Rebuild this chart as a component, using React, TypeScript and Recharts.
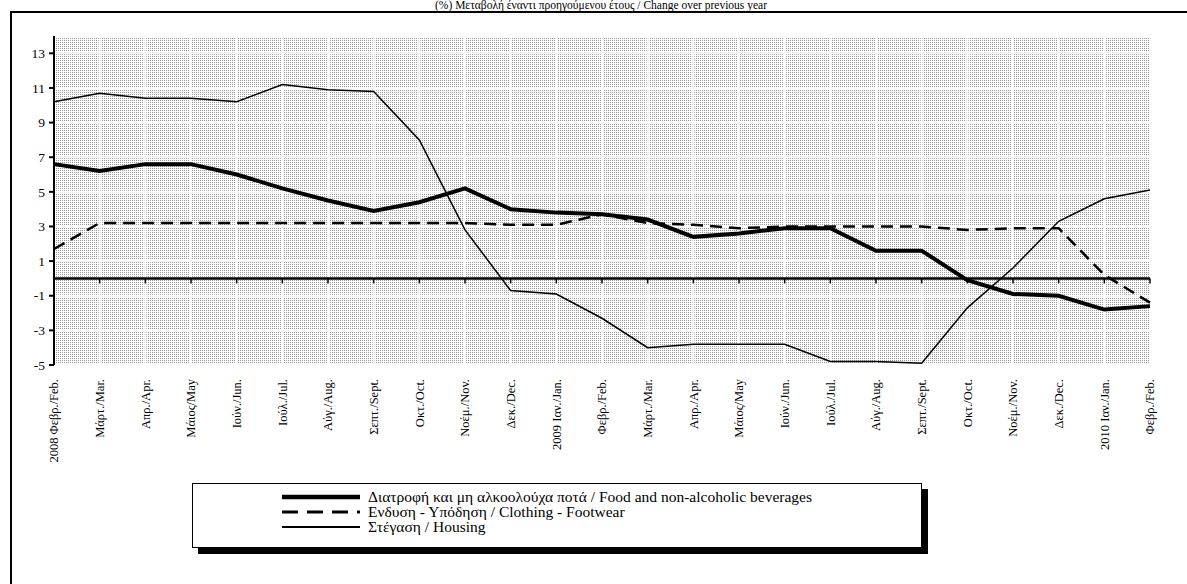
import React from 'react'
import { LineChart, Line, XAxis, YAxis, CartesianGrid, ReferenceLine } from 'recharts'

const months = [
  '2008 Φεβρ./Feb.', 'Μάρτ./Mar.', 'Απρ./Apr.', 'Μάιος/May', 'Ιούν./Jun.', 'Ιούλ./Jul.',
  'Αύγ./Aug.', 'Σεπτ./Sept.', 'Οκτ./Oct.', 'Νοέμ./Nov.', 'Δεκ./Dec.', '2009 Ιαν./Jan.',
  'Φεβρ./Feb.', 'Μάρτ./Mar.', 'Απρ./Apr.', 'Μάιος/May', 'Ιούν./Jun.', 'Ιούλ./Jul.',
  'Αύγ./Aug.', 'Σεπτ./Sept.', 'Οκτ./Oct.', 'Νοέμ./Nov.', 'Δεκ./Dec.', '2010 Ιαν./Jan.',
  'Φεβρ./Feb.',
]

const food = [
  6.6, 6.2, 6.6, 6.6, 6.0, 5.2, 4.5, 3.9, 4.4, 5.2, 4.0, 3.8,
  3.7, 3.4, 2.4, 2.6, 2.9, 2.9, 1.6, 1.6, -0.1, -0.9, -1.0, -1.8, -1.6,
]

const clothing = [
  1.7, 3.2, 3.2, 3.2, 3.2, 3.2, 3.2, 3.2, 3.2, 3.2, 3.1, 3.1,
  3.7, 3.2, 3.1, 2.9, 3.0, 3.0, 3.0, 3.0, 2.8, 2.9, 2.9, 0.2, -1.4,
]

const housing = [
  10.2, 10.7, 10.4, 10.4, 10.2, 11.2, 10.9, 10.8, 8.0, 2.8, -0.7, -0.9,
  -2.3, -4.0, -3.8, -3.8, -3.8, -4.8, -4.8, -4.9, -1.7, 0.6, 3.3, 4.6, 5.1,
]

const yTicks = [-5, -3, -1, 1, 3, 5, 7, 9, 11, 13]

const seriesNames = [
  'Διατροφή και μη αλκοολούχα ποτά / Food and non-alcoholic beverages',
  'Ενδυση - Υπόδηση / Clothing - Footwear',
  'Στέγαση / Housing',
]

const title = '(%) Μεταβολή έναντι προηγούμενου έτους / Change over previous year'

const data = months.map((m, i) => ({
  month: m,
  food: food[i],
  clothing: clothing[i],
  housing: housing[i],
}))

const W = 1187
const H = 584
const margin = { top: 36, right: 37, left: 0, bottom: 109 }
const xAxisH = 110
const plotH = H - margin.top - margin.bottom - xAxisH
const zeroY = margin.top + (plotH * 14) / 19

const font = 'Liberation Serif, Times New Roman, Times, serif'

function MonthTick(props: any) {
  const { x, y, payload } = props
  return (
    <g>
      <line x1={x} x2={x} y1={zeroY} y2={zeroY + 5} stroke="#000" strokeWidth={1.5} />
      <text
        transform={`translate(${x},${y + 6}) rotate(-90)`}
        textAnchor="end"
        dy="0.35em"
        fontSize={12.5}
        style={{ fontFamily: font }}
        fill="#000"
      >
        {payload.value}
      </text>
    </g>
  )
}

function YTick(props: any) {
  const { x, y, payload } = props
  return (
    <text x={x} y={y} dy="0.35em" textAnchor="end" fontSize={13.5} style={{ fontFamily: font }} fill="#000">
      {payload.value}
    </text>
  )
}

function LegendBox() {
  const samples = [
    { w: 4.5, dash: undefined },
    { w: 3, dash: '16 9' },
    { w: 1.8, dash: undefined },
  ]
  return (
    <div
      style={{
        position: 'absolute',
        left: 192,
        top: 483,
        width: 728,
        height: 63,
        border: '1.5px solid #000',
        boxShadow: '6px 6px 0 #000',
        background: '#fff',
        fontFamily: font,
        fontSize: 15.5,
      }}
    >
      <div style={{ position: 'absolute', left: 89, top: 5 }}>
        {seriesNames.map((name, i) => (
          <div key={i} style={{ display: 'flex', alignItems: 'center', height: 15, whiteSpace: 'nowrap' }}>
            <svg width={78} height={10} style={{ marginRight: 8 }}>
              <line
                x1={0}
                x2={78}
                y1={5}
                y2={5}
                stroke="#000"
                strokeWidth={samples[i].w}
                strokeDasharray={samples[i].dash}
              />
            </svg>
            <span>{name}</span>
          </div>
        ))}
      </div>
    </div>
  )
}

export default function App() {
  return (
    <div
      style={{
        position: 'absolute',
        left: 0,
        top: 0,
        width: W,
        height: H,
        overflow: 'hidden',
        background: '#fff',
        fontFamily: font,
      }}
    >
      <div
        style={{
          position: 'absolute',
          left: 0,
          width: W,
          top: 0,
          textAlign: 'center',
          fontSize: 11.5,
          lineHeight: '11px',
          paddingLeft: 15,
          boxSizing: 'border-box',
          whiteSpace: 'nowrap',
        }}
      >
        {title}
      </div>
      <div
        style={{
          position: 'absolute',
          left: 10,
          top: 11,
          width: W,
          height: H,
          borderTop: '2px solid #000',
          borderLeft: '2px solid #000',
        }}
      />
      <div style={{ position: 'absolute', left: 0, top: 0 }}>
        <LineChart width={W} height={H} data={data} margin={margin}>
          <defs>
            <pattern id="dots" width={2} height={2} patternUnits="userSpaceOnUse">
              <rect width={2} height={2} fill="#fff" />
              <rect x={0} y={0} width={1} height={1} fill="#999" />
            </pattern>
          </defs>
          <CartesianGrid fill="url(#dots)" fillOpacity={1} stroke="#fff" strokeWidth={2} />
          <XAxis
            dataKey="month"
            interval={0}
            height={xAxisH}
            axisLine={false}
            tickLine={false}
            tick={<MonthTick />}
          />
          <YAxis
            type="number"
            domain={[-5, 14]}
            ticks={yTicks}
            width={54}
            interval={0}
            axisLine={{ stroke: '#000', strokeWidth: 2 }}
            tickLine={{ stroke: '#000', strokeWidth: 2 }}
            tickSize={5}
            tickMargin={4}
            tick={<YTick />}
          />
          <ReferenceLine y={0} stroke="#000" strokeWidth={2.5} />
          <Line
            dataKey="housing"
            type="linear"
            stroke="#000"
            strokeWidth={1.5}
            dot={false}
            isAnimationActive={false}
          />
          <Line
            dataKey="clothing"
            type="linear"
            stroke="#000"
            strokeWidth={2.5}
            strokeDasharray="12 7"
            dot={false}
            isAnimationActive={false}
          />
          <Line
            dataKey="food"
            type="linear"
            stroke="#000"
            strokeWidth={4}
            dot={false}
            isAnimationActive={false}
          />
        </LineChart>
      </div>
      <LegendBox />
    </div>
  )
}
